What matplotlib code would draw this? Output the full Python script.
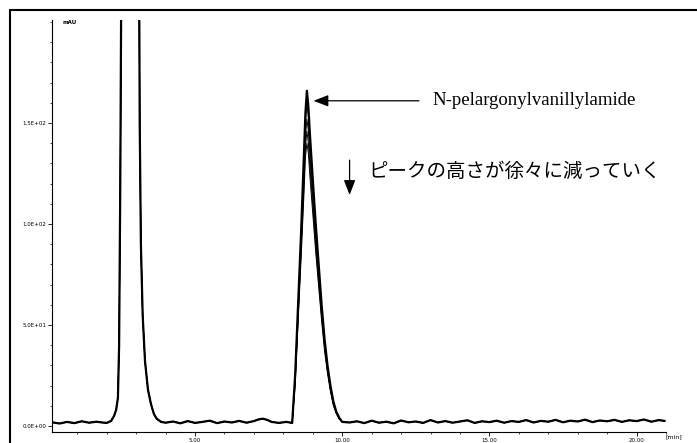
import numpy as np
import matplotlib
matplotlib.use("Agg")
from matplotlib import pyplot as plt
from matplotlib.patches import Rectangle
from matplotlib.ticker import MultipleLocator, FuncFormatter

# baseline before the solvent peak
base1_t = [0.14, 0.40, 0.65, 0.90, 1.15, 1.40, 1.65, 1.85]
base1_v = [1.8, 1.2, 2.0, 1.4, 2.3, 1.6, 2.1, 1.7]

# solvent peak (off scale)
solvent_t = [2.00, 2.15, 2.25, 2.32, 2.38, 2.42, 2.46, 2.52, 2.60, 3.00,
             3.08, 3.12, 3.16, 3.22, 3.30, 3.40, 3.50, 3.60, 3.70, 3.85]
solvent_v = [1.5, 2.5, 5, 8, 14, 40, 120, 300, 500, 500,
             300, 150, 90, 55, 32, 18, 11, 6, 3.5, 2]

# baseline between the peaks (small hump near 7.3 min)
base2_t = [4.00, 4.25, 4.50, 4.75, 5.00, 5.25, 5.50, 5.75, 6.00, 6.25,
           6.50, 6.75, 7.00, 7.15, 7.30, 7.45, 7.60, 7.85, 8.10]
base2_v = [1.6, 2.2, 1.3, 2.4, 1.5, 2.0, 2.6, 1.4, 2.2, 1.7,
           2.5, 1.6, 2.4, 3.2, 3.6, 3.0, 2.0, 1.5, 2.0]

# N-pelargonylvanillylamide peak, one row per injection
peak_t = [8.30, 8.40, 8.50, 8.60, 8.70, 8.75, 8.80, 8.85, 8.90, 9.00,
          9.10, 9.20, 9.30, 9.40, 9.50, 9.60, 9.70, 9.80, 9.90, 10.00]
peak_a = [1.5, 25, 60, 95, 135, 155, 166, 158, 145, 122, 100, 80, 60, 43, 30, 20, 12, 7, 4, 2]
peak_b = [1.5, 24, 58, 92, 130, 150, 160, 153, 140, 118, 97, 77, 58, 42, 29, 19, 12, 7, 4, 2]
peak_c = [1.5, 22, 55, 88, 124, 143, 152, 146, 134, 113, 93, 74, 56, 40, 28, 18, 11, 6.5, 3.5, 2]
peak_d = [1.5, 21, 53, 85, 119, 138, 146, 140, 129, 109, 89, 71, 54, 39, 27, 18, 11, 6.5, 3.5, 2]
peak_e = [1.5, 20, 51, 82, 115, 133, 140, 135, 124, 105, 86, 69, 52, 37, 26, 17, 10, 6, 3.5, 2]

# baseline after the peak
base3_t = [10.25, 10.50, 10.75, 11.00, 11.25, 11.50, 11.75, 12.00, 12.25, 12.50,
           12.75, 13.00, 13.25, 13.50, 13.75, 14.00, 14.25, 14.50, 14.75, 15.00,
           15.25, 15.50, 15.75, 16.00, 16.25, 16.50, 16.75, 17.00, 17.25, 17.50,
           17.75, 18.00, 18.25, 18.50, 18.75, 19.00, 19.25, 19.50, 19.75, 20.00,
           20.25, 20.50, 20.75, 20.95]
base3_v = [1.7, 2.3, 1.4, 2.6, 1.6, 2.1, 1.3, 2.7, 1.8, 2.2,
           1.5, 2.9, 1.7, 2.4, 1.6, 2.2, 2.8, 1.5, 2.3, 1.9,
           2.6, 1.6, 2.4, 2.0, 2.9, 1.7, 2.5, 2.1, 3.0, 1.8,
           2.6, 2.2, 3.1, 1.9, 2.7, 2.3, 3.0, 2.0, 2.8, 2.4,
           3.2, 2.1, 2.9, 2.5]

peaks = [peak_a, peak_b, peak_c, peak_d, peak_e]

y_ticks = [0, 50, 100, 150]
x_ticks = [5, 10, 15, 20]

fig = plt.figure(figsize=(6.97, 4.43), dpi=100)
ax = fig.add_axes([52 / 697, 11 / 443, 614 / 697, 412 / 443])

t_all = np.concatenate([base1_t, solvent_t, base2_t, peak_t, base3_t])
for i, pk in enumerate(peaks):
    v_all = np.concatenate([base1_v, solvent_v, base2_v, pk, base3_v])
    ax.plot(t_all, v_all, color="black", lw=1.6 if i == 0 else 0.7)

ax.set_xlim(0.14, 21.0)
ax.set_ylim(-3, 201)
ax.spines["top"].set_visible(False)
ax.spines["right"].set_visible(False)
ax.set_yticks(y_ticks)
ax.set_xticks(x_ticks)
ax.yaxis.set_minor_locator(MultipleLocator(10))
ax.xaxis.set_minor_locator(MultipleLocator(1))
ax.yaxis.set_major_formatter(FuncFormatter(lambda v, p: "%.1E" % v))
ax.xaxis.set_major_formatter(FuncFormatter(lambda v, p: "%.2f" % v))
ax.tick_params(axis="both", which="major", labelsize=4, length=3, width=0.6, pad=1)
ax.tick_params(axis="both", which="minor", length=1.5, width=0.5)

fig.text(62 / 697, 1 - 22 / 443, "mAU", fontsize=4, fontweight="bold", va="center")
fig.text(665 / 697, 1 - 437 / 443, "[min]", fontsize=4.5, va="center")

ax.annotate("", xy=(8.93, 161), xytext=(12.7, 161),
            arrowprops=dict(arrowstyle="-|>,head_length=0.9,head_width=0.35",
                            color="black", lw=0.9))
ax.text(13.05, 161, "N-pelargonylvanillylamide", fontsize=13.5,
        family="Liberation Serif", va="center")

ax.annotate("", xy=(10.25, 113), xytext=(10.25, 133),
            arrowprops=dict(arrowstyle="-|>,head_length=0.9,head_width=0.35",
                            color="black", lw=0.9))
ax.text(10.9, 126, "ピークの高さが徐々に減っていく", fontsize=14,
        family=["Noto Sans CJK JP", "DejaVu Sans"], va="center")

fig.patches.append(Rectangle((10 / 697, -0.1), 1.2, 0.1 + 433 / 443,
                             transform=fig.transFigure, fill=False,
                             edgecolor="black", lw=1.5))

fig.savefig("out.png", dpi=100)
